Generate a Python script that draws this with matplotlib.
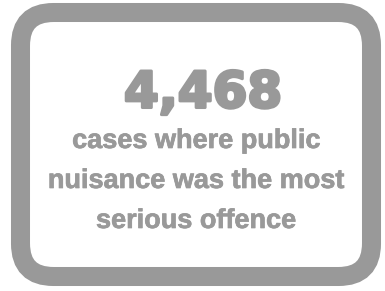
import matplotlib
matplotlib.use("Agg")
import matplotlib.pyplot as plt
import matplotlib.patheffects as pe
from matplotlib.patches import FancyBboxPatch

# headline figure and caption
big_number = "4,468"
caption_lines = ["cases where public", "nuisance was the most", "serious offence"]

grey = "#999999"

fig = plt.figure(figsize=(3.85, 2.91), dpi=100)
ax = fig.add_axes([0, 0, 1, 1])
ax.set_xlim(0, 385)
ax.set_ylim(291, 0)
ax.axis("off")

# rounded frame (stroke centred on the path)
frame = FancyBboxPatch((20.5, 12.5), 351, 264,
                       boxstyle="round,pad=0,rounding_size=33",
                       facecolor="white", edgecolor=grey, linewidth=13.7)
ax.add_patch(frame)

ax.text(203, 107.5, big_number, ha="center", va="baseline", color=grey,
        fontsize=36, fontweight="heavy", family="DejaVu Sans",
        path_effects=[pe.Stroke(linewidth=2.2, foreground=grey), pe.Normal()])

baselines = [148, 188, 228]
for line, y in zip(caption_lines, baselines):
    ax.text(196, y, line, ha="center", va="baseline", color=grey,
            fontsize=19.5, fontweight="bold", family=["Liberation Sans", "DejaVu Sans"],
            path_effects=[pe.Stroke(linewidth=0.5, foreground=grey), pe.Normal()])

fig.savefig("out.png", dpi=100)
